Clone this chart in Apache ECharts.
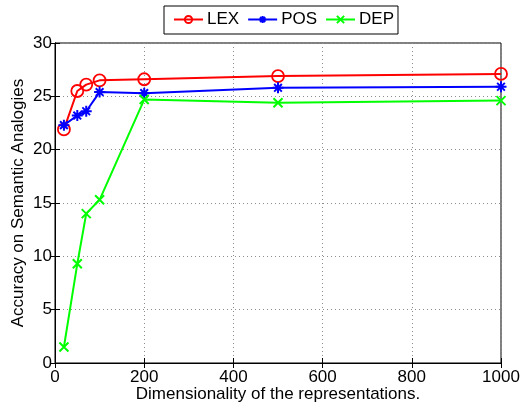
<!DOCTYPE html>
<html><head><meta charset="utf-8">
<script src="https://cdn.jsdelivr.net/npm/echarts@6/dist/echarts.min.js"></script>
<style>html,body{margin:0;padding:0;background:#fff}#c{width:531px;height:403px}</style>
</head><body><div id="c"></div>
<script>
const dims = [20, 50, 70, 100, 200, 500, 1000];
const lex = [21.9, 25.5, 26.1, 26.5, 26.6, 26.9, 27.1];
const pos = [22.3, 23.2, 23.6, 25.4, 25.3, 25.8, 25.9];
const dep = [1.5, 9.3, 14.0, 15.3, 24.7, 24.4, 24.6];
const xTicks = [0, 200, 400, 600, 800, 1000];
const yTicks = [0, 5, 10, 15, 20, 25, 30];

const FONT = 'Liberation Sans, Arial, Helvetica, sans-serif';
const pair = ys => dims.map((d, i) => [d, ys[i]]);
const ASTER = 'path://M5,0L5,10M0,5L10,5M1.5,1.5L8.5,8.5M1.5,8.5L8.5,1.5';
const XMARK = 'path://M0,0L10,10M0,10L10,0';

const chart = echarts.init(document.getElementById('c'), null, {renderer: 'canvas'});
const gridLine = {show: true, lineStyle: {color: '#8c8c8c', type: [1, 3], width: 1}};
const tick = {show: true, inside: true, length: 5, lineStyle: {color: '#000', width: 1}};
chart.setOption({
  animation: false,
  backgroundColor: '#fff',
  textStyle: {fontFamily: FONT},
  grid: {left: 55, right: 30, top: 43, bottom: 40, containLabel: false, outerBoundsMode: 'none',
         show: true, borderColor: '#000', borderWidth: 1, backgroundColor: 'transparent'},
  legend: {
    left: 164, top: 6,
    orient: 'horizontal',
    itemWidth: 29, itemHeight: 9, itemGap: 8,
    padding: [5, 4, 6, 9],
    borderColor: '#000', borderWidth: 1, backgroundColor: '#fff',
    textStyle: {fontFamily: FONT, fontSize: 17, color: '#000', padding: [0, 0, 0, -1]},
    data: ['LEX', 'POS', 'DEP']
  },
  xAxis: [{
    type: 'value', min: xTicks[0], max: xTicks[xTicks.length - 1], interval: 200,
    position: 'bottom',
    name: 'Dimensionality of the representations.', nameLocation: 'middle', nameGap: 23,
    nameMoveOverlap: false,
    nameTextStyle: {fontFamily: FONT, fontSize: 17, color: '#000'},
    axisLine: {show: true, lineStyle: {color: '#000'}},
    axisTick: tick,
    axisLabel: {fontFamily: FONT, fontSize: 17, color: '#000', margin: 6, formatter: v => String(v)},
    splitLine: gridLine
  }, {
    type: 'value', min: 0, max: 1000, interval: 200, position: 'top',
    axisLine: {show: true, lineStyle: {color: '#000'}},
    axisTick: tick, axisLabel: {show: false}, splitLine: {show: false}
  }],
  yAxis: [{
    type: 'value', min: yTicks[0], max: yTicks[yTicks.length - 1], interval: 5,
    position: 'left',
    name: 'Accuracy on Semantic Analogies', nameLocation: 'middle', nameGap: 28,
    nameMoveOverlap: false,
    nameTextStyle: {fontFamily: FONT, fontSize: 17, color: '#000'},
    axisLine: {show: true, lineStyle: {color: '#000'}},
    axisTick: tick,
    axisLabel: {fontFamily: FONT, fontSize: 17, color: '#000', margin: 3, formatter: v => String(v)},
    splitLine: gridLine
  }, {
    type: 'value', min: 0, max: 30, interval: 5, position: 'right',
    axisLine: {show: true, lineStyle: {color: '#000'}},
    axisTick: tick, axisLabel: {show: false}, splitLine: {show: false}
  }],
  series: [{
    name: 'LEX', type: 'line', data: pair(lex), xAxisIndex: 0, yAxisIndex: 0,
    symbol: 'circle', symbolSize: 12,
    lineStyle: {color: '#ff0000', width: 2},
    itemStyle: {color: 'rgba(0,0,0,0)', borderColor: '#ff0000', borderWidth: 1.8}
  }, {
    name: 'POS', type: 'line', data: pair(pos), xAxisIndex: 0, yAxisIndex: 0,
    symbol: ASTER, symbolSize: 11,
    lineStyle: {color: '#0000ff', width: 2},
    itemStyle: {color: '#0000ff', borderColor: '#0000ff', borderWidth: 2}
  }, {
    name: 'DEP', type: 'line', data: pair(dep), xAxisIndex: 0, yAxisIndex: 0,
    symbol: XMARK, symbolSize: 9,
    lineStyle: {color: '#00ff00', width: 2},
    itemStyle: {color: '#00ff00', borderColor: '#00ff00', borderWidth: 2}
  }]
});
</script>
</body></html>
